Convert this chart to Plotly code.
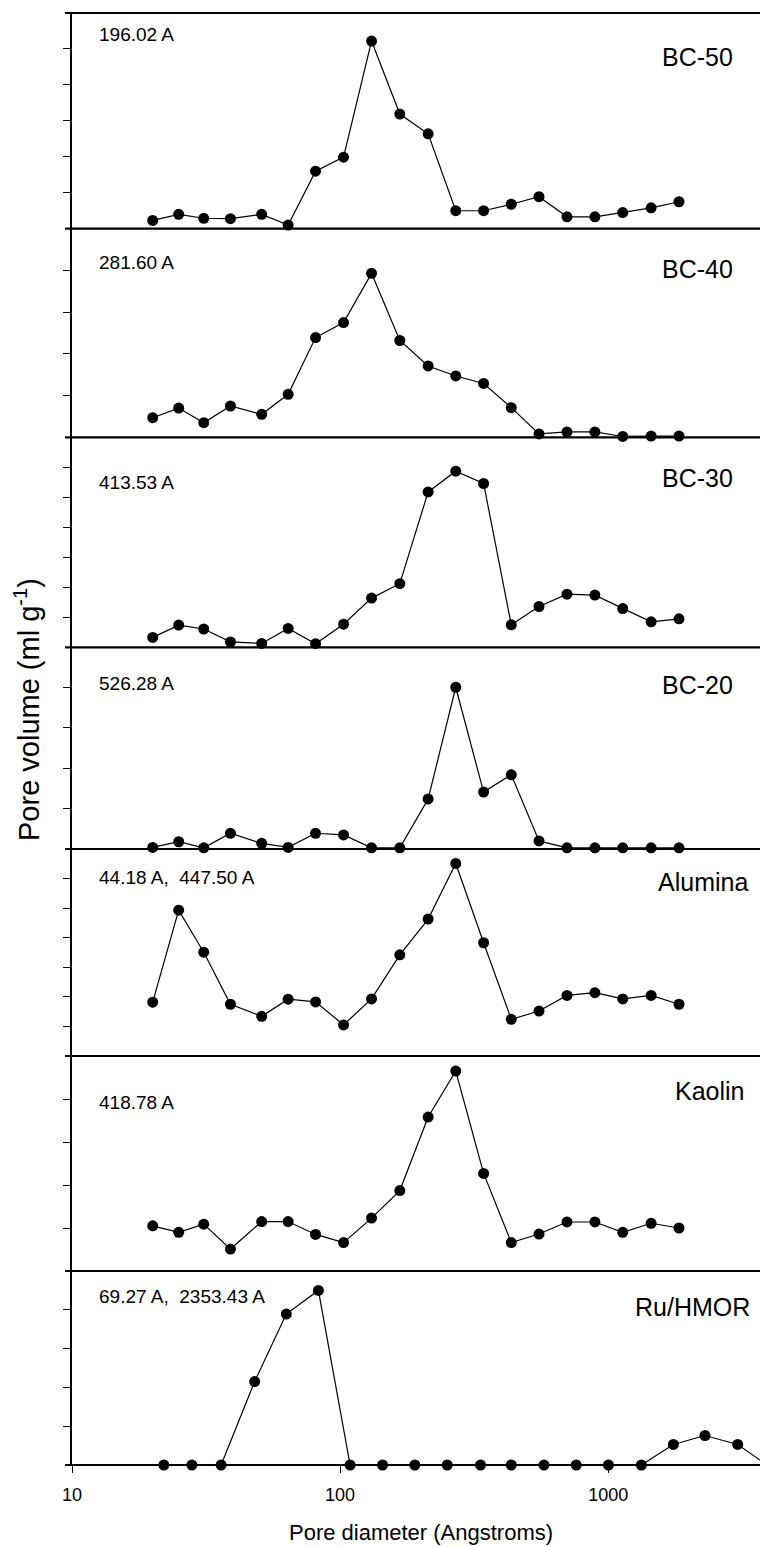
import math
import plotly.graph_objects as go
from plotly.subplots import make_subplots

# ---------------- data ----------------
diam = [20, 25, 31, 39, 51, 64, 81, 103, 131, 167, 213, 270, 343, 435, 552,
        702, 892, 1133, 1446, 1837]
diam_ru = [22, 28, 36, 48, 63, 83, 109, 144, 190, 251, 334, 435, 576, 760,
           1002, 1330, 1750, 2296, 3041, 3909]

bc50 = [0.23, 0.40, 0.29, 0.28, 0.40, 0.10, 1.60, 1.99, 5.22, 3.19, 2.64,
        0.50, 0.50, 0.68, 0.89, 0.33, 0.33, 0.45, 0.58, 0.75]
bc40 = [0.47, 0.70, 0.35, 0.75, 0.55, 1.03, 2.39, 2.75, 3.93, 2.32, 1.71,
        1.47, 1.29, 0.71, 0.08, 0.13, 0.13, 0.02, 0.03, 0.03]
bc30 = [0.33, 0.74, 0.61, 0.18, 0.13, 0.63, 0.12, 0.77, 1.64, 2.12, 5.18,
        5.87, 5.46, 0.75, 1.36, 1.77, 1.74, 1.29, 0.85, 0.95]
bc20 = [0.04, 0.18, 0.03, 0.39, 0.14, 0.04, 0.39, 0.35, 0.03, 0.03, 1.24,
        4.01, 1.41, 1.84, 0.20, 0.03, 0.03, 0.03, 0.03, 0.03]
alumina = [1.82, 4.93, 3.51, 1.75, 1.34, 1.92, 1.83, 1.05, 1.93, 3.42, 4.63,
           6.51, 3.83, 1.24, 1.52, 2.05, 2.14, 1.93, 2.05, 1.75]
kaolin = [1.05, 0.90, 1.09, 0.51, 1.15, 1.15, 0.85, 0.66, 1.23, 1.87, 3.58,
          4.65, 2.27, 0.66, 0.86, 1.14, 1.14, 0.90, 1.11, 1.00]
ru_hmor = [0.0, 0.0, 0.0, 2.15, 3.89, 4.50, 0.0, 0.0, 0.0, 0.0, 0.0, 0.0,
           0.0, 0.0, 0.0, 0.0, 0.53, 0.76, 0.53, 0.0]

names = ["BC-50", "BC-40", "BC-30", "BC-20", "Alumina", "Kaolin", "Ru/HMOR"]
notes = ["196.02 A", "281.60 A", "413.53 A", "526.28 A",
         "44.18 A,  447.50 A", "418.78 A", "69.27 A,  2353.43 A"]
series = [bc50, bc40, bc30, bc20, alumina, kaolin, ru_hmor]
xs = [diam, diam, diam, diam, diam, diam, diam_ru]
ytop = [6, 5, 7, 5, 7, 5, 5]

x_ticks = [10, 100, 1000]
x_ticktext = ["10", "100", "1000"]

# ---------------- layout geometry ----------------
# The page adds an 8px body margin, so the figure is sized 8px smaller and
# all page-pixel positions below are shifted by OFF.
OFF = 8
W, H = 768 - OFF, 1547 - OFF
L, R, T, B = 72 - OFF, 0, 13 - OFF, 82
bounds = [13, 228.7, 437.3, 647.3, 849, 1056, 1271, 1465]   # page pixels
PW = W - L - R
PH = H - T - B


def px_x(px):
    return (px - OFF - L) / PW


def px_y(py):
    return (H - B - (py - OFF)) / PH


FONT = "Liberation Sans, Arial, sans-serif"

fig = make_subplots(rows=7, cols=1, shared_xaxes=True, vertical_spacing=0)

for i in range(7):
    fig.add_trace(go.Scatter(
        x=xs[i], y=series[i], mode="lines+markers",
        line=dict(color="black", width=1.2),
        marker=dict(size=11, color="black"),
        cliponaxis=False, showlegend=False), row=i + 1, col=1)
    d0 = px_y(bounds[i + 1])
    d1 = px_y(bounds[i])
    fig.update_yaxes(domain=[max(0.0, d0), min(1.0, d1)], range=[0, ytop[i]],
                     tickvals=list(range(1, ytop[i])), ticks="outside",
                     ticklen=7, tickwidth=1.2, tickcolor="black",
                     showticklabels=False, showline=True, linecolor="black",
                     linewidth=1.5, showgrid=False, zeroline=False,
                     row=i + 1, col=1)
    fig.update_xaxes(type="log", range=[1, math.log10(3945)],
                     showgrid=False, zeroline=False, showline=False,
                     ticks="", showticklabels=False, row=i + 1, col=1)

fig.update_xaxes(ticks="outside", ticklen=7, tickwidth=1.2, tickcolor="black",
                 tickvals=x_ticks, ticktext=x_ticktext, showticklabels=True,
                 ticklabelstandoff=6,
                 tickfont=dict(family=FONT, size=18, color="black"),
                 row=7, col=1)

# horizontal panel lines
for by in bounds:
    fig.add_shape(type="line", xref="paper", yref="paper",
                  x0=px_x(65), x1=1.0, y0=px_y(by), y1=px_y(by),
                  line=dict(color="black", width=2.2))

note_y = [35, 262, 482, 683, 877, 1102, 1296]
name_xy = [(697, 57), (697, 269), (697, 478), (697, 685), (703, 882),
           (710, 1091), (692, 1307)]
for i in range(7):
    fig.add_annotation(x=px_x(97), y=px_y(note_y[i]), xref="paper",
                       yref="paper", text=notes[i], showarrow=False,
                       xanchor="left", yanchor="middle",
                       font=dict(family=FONT, size=19, color="black"))
    fig.add_annotation(x=px_x(name_xy[i][0]), y=px_y(name_xy[i][1]),
                       xref="paper", yref="paper", text=names[i],
                       showarrow=False, xanchor="center", yanchor="middle",
                       font=dict(family=FONT, size=25, color="black"))

fig.add_annotation(x=px_x(421), y=px_y(1532), xref="paper", yref="paper",
                   text="Pore diameter (Angstroms)", showarrow=False,
                   xanchor="center", yanchor="middle",
                   font=dict(family=FONT, size=22, color="black"))
fig.add_annotation(x=px_x(27), y=px_y(710), xref="paper", yref="paper",
                   text="Pore volume (ml g<sup>-1</sup>)", showarrow=False,
                   textangle=-90, xanchor="center", yanchor="middle",
                   font=dict(family=FONT, size=29, color="black"))

fig.update_layout(width=W, height=H, margin=dict(l=L, r=R, t=T, b=B),
                  paper_bgcolor="white", plot_bgcolor="white",
                  showlegend=False)

fig.write_html("out.html")
